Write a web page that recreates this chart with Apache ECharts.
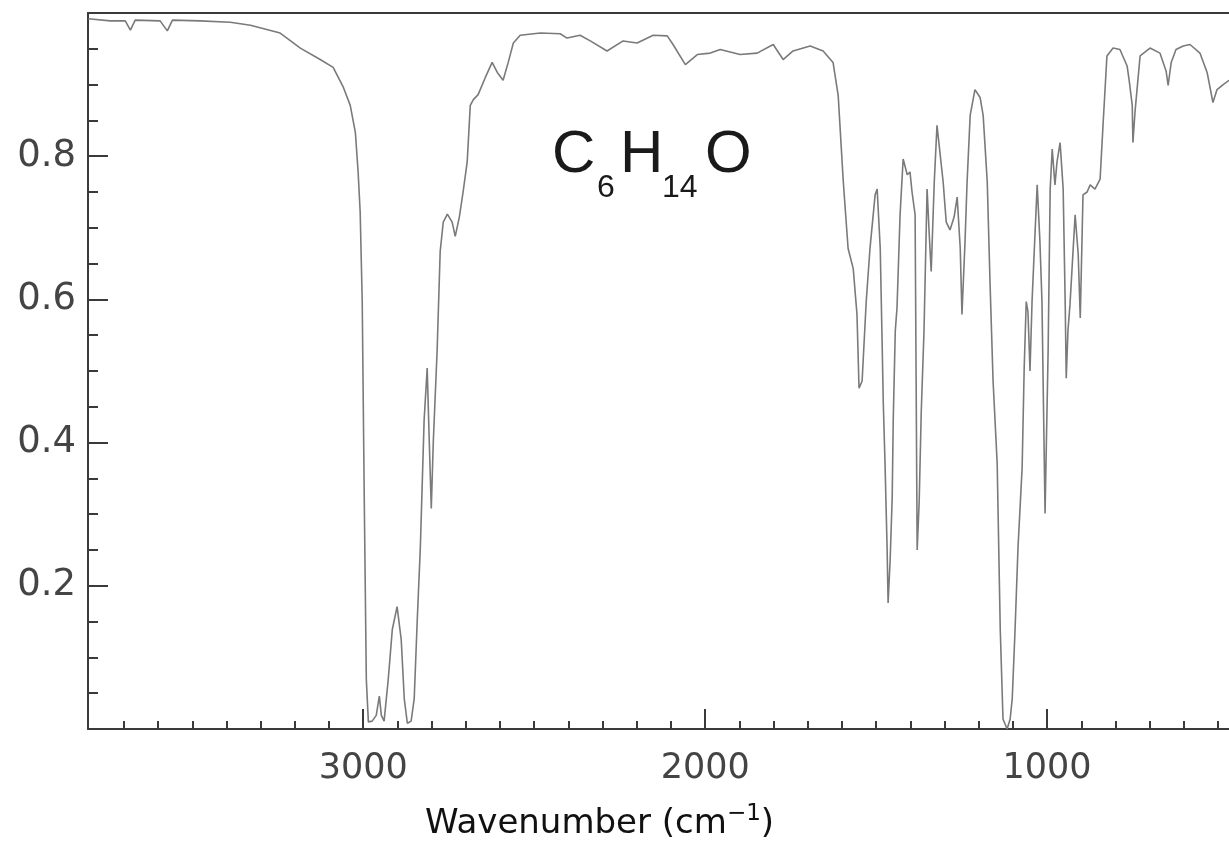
<!DOCTYPE html>
<html>
<head>
<meta charset="utf-8">
<script src="https://cdn.jsdelivr.net/npm/echarts@6/dist/echarts.min.js"></script>
<style>
html,body{margin:0;padding:0;background:#ffffff;}
#chart{width:1229px;height:843px;}
</style>
</head>
<body>
<div id="chart"></div>
<script>
// Spectrum values
const wavenumber = [3804,3740,3696,3681,3667,3594,3573,3558,3477,3389,3330,3243,3184,3126,3088,3058,3038,3023,3015,3009,3003,2997,2991,2985,2974,2962,2953,2947,2939,2927,2915,2901,2889,2880,2871,2860,2851,2842,2833,2822,2813,2807,2801,2795,2784,2775,2766,2754,2740,2731,2719,2708,2696,2687,2678,2664,2643,2623,2608,2591,2576,2561,2541,2482,2424,2404,2366,2336,2287,2240,2199,2152,2111,2094,2058,2023,1985,1956,1898,1848,1801,1772,1743,1693,1655,1626,1611,1596,1582,1567,1556,1550,1541,1529,1518,1503,1497,1488,1482,1479,1474,1468,1465,1459,1453,1450,1444,1439,1430,1421,1409,1401,1395,1386,1383,1380,1374,1368,1360,1351,1345,1339,1330,1322,1304,1295,1284,1272,1263,1254,1249,1240,1234,1225,1211,1196,1187,1175,1167,1158,1146,1137,1129,1117,1108,1102,1094,1085,1073,1067,1061,1056,1050,1044,1038,1029,1021,1015,1006,997,991,985,977,971,962,953,947,944,939,933,918,909,903,895,883,874,860,845,836,825,807,787,766,760,751,749,743,737,728,699,670,652,646,637,623,602,582,553,532,515,503,485,468];
const transmittance = [0.992,0.989,0.989,0.976,0.990,0.989,0.975,0.990,0.989,0.987,0.983,0.972,0.951,0.935,0.924,0.896,0.871,0.833,0.778,0.722,0.597,0.319,0.069,0.010,0.011,0.019,0.046,0.019,0.011,0.069,0.139,0.171,0.125,0.042,0.008,0.011,0.042,0.153,0.254,0.431,0.504,0.403,0.308,0.403,0.528,0.667,0.708,0.719,0.708,0.688,0.715,0.750,0.792,0.871,0.879,0.886,0.910,0.931,0.917,0.906,0.931,0.958,0.969,0.972,0.971,0.965,0.969,0.961,0.947,0.961,0.958,0.969,0.968,0.956,0.928,0.942,0.944,0.949,0.942,0.944,0.956,0.935,0.947,0.954,0.947,0.931,0.885,0.764,0.671,0.643,0.579,0.476,0.486,0.597,0.671,0.746,0.754,0.671,0.528,0.454,0.371,0.254,0.176,0.236,0.324,0.431,0.556,0.588,0.718,0.796,0.774,0.778,0.750,0.718,0.486,0.250,0.319,0.444,0.556,0.754,0.694,0.639,0.764,0.843,0.764,0.708,0.697,0.715,0.743,0.671,0.579,0.681,0.764,0.857,0.893,0.882,0.857,0.764,0.625,0.486,0.371,0.139,0.014,0.000,0.014,0.042,0.135,0.254,0.365,0.504,0.597,0.583,0.500,0.597,0.663,0.760,0.681,0.597,0.301,0.528,0.754,0.810,0.760,0.792,0.819,0.754,0.593,0.490,0.556,0.593,0.718,0.663,0.574,0.746,0.750,0.760,0.754,0.768,0.847,0.940,0.951,0.949,0.926,0.906,0.871,0.819,0.861,0.893,0.940,0.951,0.944,0.919,0.899,0.931,0.949,0.954,0.956,0.944,0.917,0.875,0.893,0.900,0.906];

// Axis ticks and labels
const xMajorTicks = [3000, 2000, 1000];
const xMinorTicks = [3700,3600,3500,3400,3300,3200,3100,2900,2800,2700,2600,2500,2400,2300,2200,2100,1900,1800,1700,1600,1500,1400,1300,1200,1100,900,800,700,600,500];
const yLabelValues = [0.2, 0.4, 0.6, 0.8];
const xTitle = 'Wavenumber (cm{sup|\u22121})';
const formulaParts = ['C', '6', 'H', '14', 'O'];

const points = wavenumber.map((w, i) => [w, transmittance[i]]);
const axisColor = '#3a3a3a';
const X_MIN = 468, X_MAX = 3805;

const chart = echarts.init(document.getElementById('chart'), null, {renderer: 'canvas'});
chart.setOption({
  backgroundColor: '#ffffff',
  animation: false,
  grid: {left: 88, right: 0, top: 13, bottom: 114, containLabel: false},
  xAxis: [
    {
      type: 'value', min: X_MIN, max: X_MAX, inverse: true, position: 'bottom',
      axisLine: {show: true, lineStyle: {color: axisColor, width: 2}},
      axisTick: {show: true, inside: true, length: 20, customValues: xMajorTicks, lineStyle: {color: axisColor, width: 2}},
      axisLabel: {show: true, customValues: xMajorTicks, margin: 22, color: '#444', fontSize: 35, fontFamily: 'DejaVu Sans',
        formatter: v => String(v)},
      splitLine: {show: false}
    },
    {
      type: 'value', min: X_MIN, max: X_MAX, inverse: true, position: 'bottom',
      axisLine: {show: false},
      axisTick: {show: true, inside: true, length: 8, customValues: xMinorTicks, lineStyle: {color: axisColor, width: 2}},
      axisLabel: {show: false},
      splitLine: {show: false}
    },
    {
      type: 'value', min: X_MIN, max: X_MAX, inverse: true, position: 'top',
      axisLine: {show: true, lineStyle: {color: axisColor, width: 2}},
      axisTick: {show: false}, axisLabel: {show: false}, splitLine: {show: false}
    }
  ],
  yAxis: {
    type: 'value', min: 0, max: 1, interval: 0.2,
    axisLine: {show: true, lineStyle: {color: axisColor, width: 2}},
    axisTick: {show: true, inside: true, length: 20, lineStyle: {color: axisColor, width: 2}},
    minorTick: {show: true, splitNumber: 4, length: 10, lineStyle: {color: axisColor, width: 2}},
    axisLabel: {show: true, customValues: yLabelValues, margin: 12, color: '#444', fontSize: 37, fontFamily: 'DejaVu Sans',
      formatter: v => v.toFixed(1)},
    splitLine: {show: false}
  },
  series: [{
    type: 'line',
    xAxisIndex: 0, yAxisIndex: 0,
    data: points,
    showSymbol: false,
    smooth: false,
    lineStyle: {color: '#7a7a7a', width: 1.6},
    clip: true
  }],
  graphic: [
    {type: 'text', left: 552, top: 125, style: {text: formulaParts[0], fontSize: 60, fontFamily: 'Liberation Sans', fill: '#1a1a1a'}},
    {type: 'text', left: 597, top: 172, style: {text: formulaParts[1], fontSize: 32, fontFamily: 'Liberation Sans', fill: '#1a1a1a'}},
    {type: 'text', left: 620, top: 125, style: {text: formulaParts[2], fontSize: 60, fontFamily: 'Liberation Sans', fill: '#1a1a1a'}},
    {type: 'text', left: 662, top: 172, style: {text: formulaParts[3], fontSize: 32, fontFamily: 'Liberation Sans', fill: '#1a1a1a'}},
    {type: 'text', left: 705, top: 125, style: {text: formulaParts[4], fontSize: 60, fontFamily: 'Liberation Sans', fill: '#1a1a1a'}},
    {type: 'text', left: 425, top: 803, style: {text: xTitle, fontSize: 34, fontFamily: 'DejaVu Sans', fill: '#111',
      rich: {sup: {fontSize: 23, fontFamily: 'DejaVu Sans', fill: '#111', padding: [0, 0, 20, 0]}}}}
  ]
});
</script>
</body>
</html>
